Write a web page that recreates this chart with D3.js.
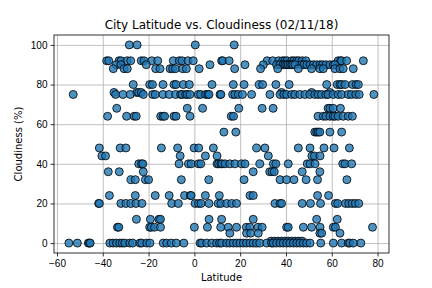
<!DOCTYPE html>
<html>
<head>
<meta charset="utf-8">
<script src="https://cdnjs.cloudflare.com/ajax/libs/d3/7.8.5/d3.min.js"></script>
<style>
  body { margin: 0; background: #fff; }
  svg { font-family: "DejaVu Sans", sans-serif; }
  .grid line { stroke: #b0b0b0; stroke-width: 0.8; }
  .grid path { display: none; }
  .axis text { font-size: 10px; fill: #000; }
  .axis path, .axis line { stroke: #000; stroke-width: 0.8; }
</style>
</head>
<body>
<svg width="432" height="288"></svg>
<script>
// latitudes grouped by cloudiness value
var cloud100 = [-28.4, -25.0, 0.4, 17.4];
var cloud92 = [-38.3, -37.4, -32.9, -32.0, -29.3, -27.8, -23.2, -22.0, -18.6, -16.0, -9.2, -6.6, -5.4, -2.8, -0.5, 11.9, 12.4, 15.2, 31.8, 34.2, 36.8, 38.5, 39.5, 40.5, 42.5, 43.5, 44.7, 45.6, 47.1, 48.7, 62.8, 63.9, 64.3, 66.5, 73.8];
var cloud90 = [-34.1, -32.0, -21.0, 6.8, 22.1, 30.1, 35.9, 37.4, 38.8, 39.6, 40.3, 41.0, 41.8, 42.5, 43.1, 44.0, 46.9, 47.8, 49.1, 50.5, 52.0, 53.4, 54.9, 56.0, 57.5, 59.2, 60.7, 61.4];
var cloud88 = [-35.4, -30.7, -29.3, -16.9, -15.0, -10.6, -9.5, -8.3, -5.1, -3.5, 2.1, 17.6, 28.9, 36.4, 45.4, 51.2, 54.8, 56.3, 61.4, 63.6, 65.0, 69.4];
var cloud80 = [-26.7, -19.5, -18.3, -13.7, -8.9, -8.0, -4.8, -2.2, 7.7, 17.0, 21.7, 28.3, 29.8, 35.6, 41.4, 57.8, 62.4, 63.6, 64.3, 65.8, 69.1, 70.6, 71.6];
var cloud76 = [-35.1, -25.2, -24.3, -23.2, 38.1, 51.2, 59.2];
var cloud75 = [-52.9, -34.4, -31.2, -28.0, -22.3, -18.2, -17.1, -13.7, -11.0, -8.2, -6.0, -5.3, -3.8, -3.1, -1.9, 1.7, 2.7, 4.9, 5.9, 6.4, 11.2, 11.6, 16.7, 17.7, 19.2, 21.0, 25.0, 33.0, 37.4, 39.1, 40.3, 42.5, 43.9, 46.1, 48.3, 50.4, 52.6, 54.1, 55.5, 57.4, 58.4, 60.6, 62.8, 64.3, 67.2, 68.6, 70.5, 72.0, 78.4];
var cloud68 = [-33.9, -3.1, 3.6, 19.4, 29.6, 34.4, 58.4, 59.2, 60.6, 63.8];
var cloud64 = [-37.9, -29.6, -26.3, -25.4, -14.7, -13.7, -13.0, -8.9, -8.0, -1.9, 16.1, 17.1, 54.0, 56.3, 57.5, 59.2, 60.6, 61.4, 62.8, 65.0, 67.2, 69.0];
var cloud56 = [12.9, 18.1, 52.6, 53.4, 54.1, 54.8, 59.2, 64.3];
var cloud48 = [-41.5, -32.4, -29.9, -14.4, -7.3, -0.1, 1.9, 8.3, 27.2, 30.8, 45.4, 50.5, 56.6, 61.0, 67.7];
var cloud44 = [-40.4, -38.8, -6.2, 4.8, 9.9, 32.3, 51.3, 52.4, 54.9];
var cloud40 = [-24.3, -23.1, -22.5, -6.7, -2.6, -1.4, 1.8, 2.8, 9.9, 10.6, 11.6, 12.1, 13.4, 15.5, 17.7, 20.6, 22.1, 28.6, 34.5, 35.6, 41.0, 49.3, 50.5, 52.7, 64.8, 65.8, 68.7];
var cloud36 = [-37.6, -32.8, -22.3, 25.7, 32.9, 33.9, 34.9, 47.1, 54.8];
var cloud32 = [-27.7, -25.8, -21.4, -20.0, -5.7, 6.3, 21.7, 37.4, 40.3, 43.5, 48.8, 53.8, 66.6];
var cloud24 = [-37.1, -25.8, -17.1, -11.0, -4.3, -1.8, -1.4, 4.8, 10.9, 24.3, 25.7, 53.8, 58.6];
var cloud20 = [-41.8, -41.5, -32.1, -29.9, -27.7, -25.5, -22.9, -9.9, -7.0, 0.3, 1.8, 2.9, 6.4, 10.4, 11.6, 14.1, 16.3, 18.4, 35.2, 37.4, 38.1, 47.1, 50.7, 55.1, 61.6, 62.6, 66.0, 67.4, 68.9, 70.3, 71.8];
var cloud12 = [-25.3, -19.2, -15.5, -14.8, 6.4, 11.9, 25.7, 53.4, 62.4];
var cloud8 = [-33.6, -33.0, -19.5, -18.8, -17.4, -14.8, 0.0, 5.7, 11.5, 14.8, 18.4, 22.7, 24.2, 27.8, 29.6, 40.3, 41.0, 47.6, 51.2, 54.9, 60.7, 61.6, 77.8];
var cloud5 = [15.5, 22.8, 24.6, 27.9, 54.8, 55.6, 63.6];
var cloud1 = [33.5, 35.0, 36.5, 38.0, 39.5, 41.0, 42.5, 44.0, 45.5, 47.0];
var cloud0 = [-54.8, -51.1, -46.3, -45.8, -45.5, -36.9, -35.5, -34.0, -32.6, -31.5, -30.4, -28.2, -27.0, -23.8, -23.0, -20.8, -19.4, -13.6, -12.1, -10.1, -7.9, -4.6, 2.5, 3.2, 5.4, 7.6, 9.7, 11.0, 11.9, 14.1, 15.5, 17.0, 18.5, 19.9, 21.4, 22.8, 24.3, 25.7, 27.2, 28.6, 31.6, 33.7, 34.5, 35.9, 37.4, 38.8, 40.3, 41.7, 43.2, 44.7, 46.1, 47.6, 49.0, 50.5, 55.2, 60.7, 64.3, 67.2, 67.9, 69.4, 72.7];

var xTicks = [-60, -40, -20, 0, 20, 40, 60, 80];
var yTicks = [0, 20, 40, 60, 80, 100];

var groups = [
    [100, cloud100], [92, cloud92], [90, cloud90], [88, cloud88], [80, cloud80],
    [76, cloud76], [75, cloud75], [68, cloud68], [64, cloud64], [56, cloud56],
    [48, cloud48], [44, cloud44], [40, cloud40], [36, cloud36], [32, cloud32],
    [24, cloud24], [20, cloud20], [12, cloud12], [8, cloud8], [5, cloud5],
    [1, cloud1], [0, cloud0]
];

var points = [];
groups.forEach(function(g) {
    g[1].forEach(function(lat) { points.push({ lat: lat, cloud: g[0] }); });
});

var svg = d3.select("svg"),
    margin = { top: 35, right: 43, bottom: 35, left: 54 },
    width = +svg.attr("width") - margin.left - margin.right,
    height = +svg.attr("height") - margin.top - margin.bottom;

var x = d3.scaleLinear().domain([-61.3, 85]).range([0, width]);
var y = d3.scaleLinear().domain([-5, 105]).range([height, 0]);

var g = svg.append("g").attr("transform", "translate(" + margin.left + "," + margin.top + ")");

// grid
g.append("g").attr("class", "grid")
    .attr("transform", "translate(0," + height + ")")
    .call(d3.axisBottom(x).tickValues(xTicks).tickSize(-height).tickFormat(""));
g.append("g").attr("class", "grid")
    .call(d3.axisLeft(y).tickValues(yTicks).tickSize(-width).tickFormat(""));

// points
g.append("g").selectAll("circle")
    .data(points)
    .enter().append("circle")
    .attr("cx", function(d) { return x(d.lat); })
    .attr("cy", function(d) { return y(d.cloud); })
    .attr("r", 4)
    .attr("fill", "#1f77b4")
    .attr("fill-opacity", 0.8)
    .attr("stroke", "#000")
    .attr("stroke-width", 0.8);

// frame
g.append("rect")
    .attr("width", width).attr("height", height)
    .attr("fill", "none").attr("stroke", "#000").attr("stroke-width", 0.8);

// axes
g.append("g").attr("class", "axis")
    .attr("transform", "translate(0," + height + ")")
    .call(d3.axisBottom(x).tickValues(xTicks).tickSizeInner(3.5).tickSizeOuter(0).tickPadding(3)
        .tickFormat(function(d) { return d < 0 ? "\u2212" + Math.abs(d) : d; }));
g.append("g").attr("class", "axis")
    .call(d3.axisLeft(y).tickValues(yTicks).tickSizeInner(3.5).tickSizeOuter(0).tickPadding(3));

g.selectAll(".axis .domain").remove();

// labels
svg.append("text")
    .attr("x", margin.left + width / 2).attr("y", 29)
    .attr("text-anchor", "middle").attr("font-size", 12)
    .text("City Latitude vs. Cloudiness (02/11/18)");

svg.append("text")
    .attr("x", margin.left + width / 2).attr("y", 281)
    .attr("text-anchor", "middle").attr("font-size", 10)
    .text("Latitude");

svg.append("text")
    .attr("transform", "translate(22," + (margin.top + height / 2) + ") rotate(-90)")
    .attr("text-anchor", "middle").attr("font-size", 10)
    .text("Cloudiness (%)");
</script>
</body>
</html>
